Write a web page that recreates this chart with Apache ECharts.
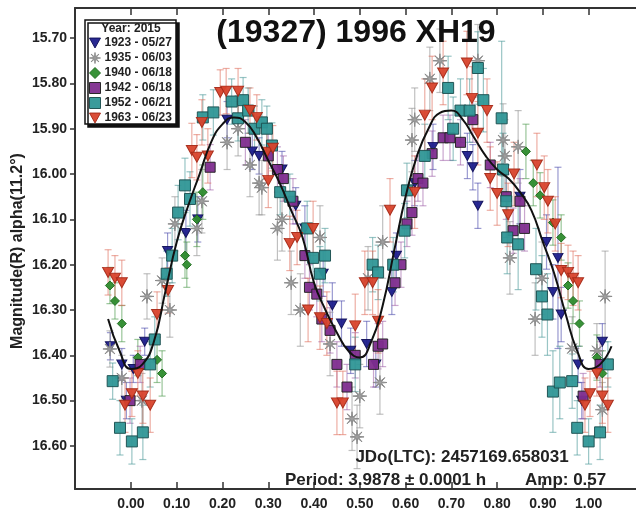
<!DOCTYPE html>
<html><head><meta charset="utf-8">
<script src="https://cdn.jsdelivr.net/npm/echarts@6/dist/echarts.min.js"></script>
<style>html,body{margin:0;padding:0;background:#fff}#c{width:636px;height:520px}</style>
</head><body><div id="c"></div><script>
// ---- data: [phase, magnitude, error] ----
const s1923 = [[-0.045,16.38,0.03],[-0.02,16.42,0.035],[-0.01,16.50,0.04],[0.005,16.43,0.03],[0.03,16.37,0.03],[0.08,16.17,0.04],[0.12,16.13,0.05],[0.146,16.10,0.05],[0.21,15.88,0.04],[0.265,15.95,0.04],[0.28,15.96,0.04],[0.33,15.99,0.04],[0.36,16.07,0.04],[0.38,16.12,0.05],[0.42,16.22,0.05],[0.44,16.29,0.05],[0.46,16.33,0.05],[0.48,16.39,0.05],[0.515,16.375,0.05],[0.535,16.42,0.05],[0.57,16.26,0.05],[0.58,16.18,0.05],[0.62,16.02,0.05],[0.66,15.94,0.05],[0.735,15.96,0.05],[0.747,15.985,0.05],[0.758,16.07,0.05],[0.85,16.05,0.06],[0.908,16.15,0.06],[0.933,16.185,0.2],[0.922,16.26,0.06],[0.94,16.31,0.06],[0.977,16.42,0.04],[0.985,16.50,0.04],[1.03,16.37,0.04]];
const s1935 = [[-0.046,16.386,0.04],[-0.02,16.45,0.05],[0.024,16.50,0.06],[0.035,16.27,0.05],[0.068,16.235,0.05],[0.085,16.30,0.06],[0.096,16.11,0.06],[0.144,16.12,0.06],[0.155,16.06,0.07],[0.21,15.93,0.06],[0.234,15.90,0.06],[0.26,15.98,0.07],[0.28,16.02,0.07],[0.286,16.03,0.06],[0.32,16.12,0.07],[0.33,16.10,0.07],[0.35,16.24,0.07],[0.37,16.30,0.08],[0.413,16.14,0.07],[0.435,16.375,0.07],[0.483,16.54,0.07],[0.494,16.58,0.07],[0.50,16.49,0.07],[0.518,16.23,0.07],[0.544,16.46,0.07],[0.55,16.15,0.08],[0.614,15.925,0.07],[0.62,15.88,0.07],[0.653,15.79,0.07],[0.675,15.75,0.07],[0.758,15.75,0.08],[0.813,15.925,0.08],[0.846,15.94,0.08],[0.817,15.96,0.08],[0.828,16.185,0.08],[0.883,16.32,0.08],[0.898,16.23,0.08],[0.964,16.385,0.07],[1.018,16.39,0.06],[1.03,16.52,0.06],[1.036,16.27,0.1]];
const s1940 = [[-0.046,16.246,0.04],[-0.035,16.28,0.04],[-0.02,16.33,0.04],[0.015,16.405,0.04],[0.057,16.41,0.05],[0.068,16.44,0.05],[0.118,16.18,0.05],[0.122,16.20,0.05],[0.144,16.10,0.06],[0.157,16.04,0.06],[0.863,15.95,0.06],[0.879,16.02,0.05],[0.894,16.047,0.05],[0.922,16.107,0.05],[0.94,16.14,0.05],[0.955,16.246,0.05],[0.966,16.28,0.05],[0.98,16.33,0.05],[1.018,16.405,0.05],[1.03,16.44,0.05]];
const s1942 = [[-0.002,16.50,0.05],[0.02,16.42,0.04],[0.173,15.985,0.05],[0.25,15.93,0.05],[0.30,15.96,0.05],[0.32,15.99,0.05],[0.333,16.01,0.05],[0.354,16.06,0.05],[0.38,16.18,0.05],[0.39,16.25,0.05],[0.406,16.265,0.05],[0.417,16.32,0.05],[0.435,16.345,0.05],[0.45,16.42,0.05],[0.472,16.47,0.05],[0.49,16.40,0.05],[0.53,16.42,0.05],[0.54,16.38,0.05],[0.55,16.375,0.05],[0.577,16.24,0.05],[0.59,16.20,0.05],[0.603,16.11,0.05],[0.614,16.085,0.05],[0.627,16.01,0.05],[0.638,16.02,0.05],[0.658,15.955,0.05],[0.682,15.92,0.05],[0.697,15.92,0.05],[0.72,15.93,0.05],[0.747,15.88,0.05],[0.785,15.98,0.05],[0.82,16.05,0.05],[0.835,16.125,0.05],[0.85,16.06,0.05],[0.86,16.12,0.05],[0.988,16.49,0.05],[1.025,16.42,0.05]];
const s1952 = [[-0.04,16.457,0.04],[-0.024,16.56,0.06],[0.002,16.59,0.05],[0.026,16.57,0.06],[0.042,16.42,0.05],[0.052,16.365,0.05],[0.078,16.22,0.05],[0.09,16.18,0.06],[0.103,16.085,0.06],[0.118,16.025,0.06],[0.129,16.055,0.06],[0.157,15.875,0.05],[0.18,15.864,0.05],[0.22,15.84,0.05],[0.234,15.877,0.05],[0.245,15.837,0.05],[0.256,15.86,0.05],[0.27,15.90,0.05],[0.286,15.886,0.05],[0.297,15.90,0.05],[0.308,15.937,0.05],[0.326,16.04,0.05],[0.347,16.05,0.05],[0.385,16.12,0.06],[0.398,16.185,0.06],[0.413,16.22,0.06],[0.424,16.18,0.06],[0.49,16.42,0.06],[0.528,16.20,0.06],[0.54,16.217,0.06],[0.573,16.20,0.06],[0.598,16.125,0.06],[0.603,16.036,0.06],[0.642,15.96,0.07],[0.693,15.81,0.07],[0.704,15.90,0.07],[0.72,15.86,0.07],[0.74,15.86,0.07],[0.758,15.766,0.08],[0.77,15.837,0.07],[0.81,15.877,0.17],[0.813,15.99,0.08],[0.82,16.06,0.08],[0.822,16.14,0.08],[0.846,16.155,0.1],[0.885,16.21,0.09],[0.898,16.27,0.09],[0.91,16.31,0.09],[0.922,16.48,0.09],[0.937,16.46,0.08],[0.964,16.457,0.06],[0.975,16.56,0.06],[1.0,16.59,0.05],[1.025,16.57,0.06],[1.042,16.42,0.05]];
const s1963 = [[-0.05,16.217,0.05],[-0.035,16.23,0.05],[-0.02,16.24,0.05],[-0.013,16.51,0.06],[0.002,16.485,0.05],[0.015,16.44,0.05],[0.026,16.49,0.06],[0.042,16.51,0.06],[0.057,16.31,0.05],[0.081,16.257,0.05],[0.133,15.948,0.06],[0.144,15.963,0.05],[0.155,15.886,0.05],[0.168,15.96,0.06],[0.195,15.82,0.05],[0.208,15.817,0.05],[0.234,15.817,0.05],[0.26,15.86,0.05],[0.275,15.875,0.05],[0.297,15.952,0.06],[0.30,16.014,0.06],[0.31,15.943,0.05],[0.347,16.153,0.06],[0.363,16.14,0.06],[0.387,16.30,0.07],[0.398,16.12,0.06],[0.413,16.317,0.07],[0.428,16.33,0.07],[0.45,16.505,0.07],[0.463,16.505,0.07],[0.49,16.335,0.07],[0.511,16.24,0.07],[0.528,16.24,0.07],[0.54,16.325,0.07],[0.566,16.08,0.07],[0.62,16.04,0.08],[0.642,15.87,0.08],[0.658,15.81,0.07],[0.682,15.777,0.07],[0.734,15.755,0.07],[0.745,15.833,0.07],[0.758,15.91,0.07],[0.778,15.86,0.07],[0.785,16.01,0.07],[0.80,16.043,0.07],[0.824,16.09,0.07],[0.837,16.0,0.07],[0.887,15.98,0.07],[0.903,16.03,0.07],[0.911,16.06,0.07],[0.927,16.11,0.06],[0.94,16.213,0.06],[0.955,16.217,0.06],[0.966,16.23,0.06],[0.977,16.24,0.06],[0.992,16.51,0.06],[1.003,16.485,0.05],[1.018,16.44,0.05],[1.03,16.49,0.06],[1.042,16.51,0.06]];
// fitted Fourier curve
const fitPhase = [-0.05,-0.025,0,0.025,0.05,0.075,0.1,0.125,0.15,0.175,0.2,0.225,0.25,0.275,0.3,0.325,0.35,0.375,0.4,0.425,0.45,0.475,0.5,0.525,0.55,0.575,0.6,0.625,0.65,0.675,0.7,0.725,0.75,0.775,0.8,0.825,0.85,0.875,0.9,0.925,0.95,0.975,1.0,1.025,1.05];
const fitMag = [16.32,16.39,16.43,16.42,16.37,16.26,16.15,16.07,16.00,15.93,15.89,15.875,15.885,15.92,15.97,16.02,16.08,16.14,16.24,16.30,16.35,16.39,16.405,16.37,16.29,16.17,16.05,15.96,15.90,15.865,15.86,15.88,15.92,15.96,15.99,16.01,16.04,16.08,16.15,16.22,16.31,16.39,16.43,16.42,16.38];
const phaseTicks = [0,0.1,0.2,0.3,0.4,0.5,0.6,0.7,0.8,0.9,1.0];
const magTicks = [15.7,15.8,15.9,16.0,16.1,16.2,16.3,16.4,16.5,16.6];
const seriesNames = ['1923 - 05/27','1935 - 06/03','1940 - 06/18','1942 - 06/18','1952 - 06/21','1963 - 06/23'];

// ---- styles ----
const triDown = 'path://M0,0L10,0L5,9Z';
let starPath = 'path://';
for (let i = 0; i < 16; i++) {
  const a = Math.PI * i / 8, r = (i % 2 === 0) ? 10 : 2.2;
  starPath += (i === 0 ? 'M' : 'L') + (10 + r * Math.cos(a)).toFixed(2) + ',' + (10 + r * Math.sin(a)).toFixed(2);
}
starPath += 'Z';
const styles = [
  {data: s1923, symbol: triDown, size: [10, 9], color: '#1d1d8c', border: '#11115a', err: 'rgba(70,70,170,0.55)'},
  {data: s1935, symbol: starPath, size: 14, color: '#9c9c9c', border: '#8a8a8a', err: 'rgba(150,150,150,0.6)'},
  {data: s1940, symbol: 'diamond', size: 9, color: '#2e8c2e', border: '#1e6a1e', err: 'rgba(70,150,70,0.55)'},
  {data: s1942, symbol: 'rect', size: 10, color: '#7e2d8e', border: '#222222', err: 'rgba(150,80,160,0.5)'},
  {data: s1952, symbol: 'rect', size: 11, color: '#2f9696', border: '#1c5050', err: 'rgba(70,150,150,0.55)'},
  {data: s1963, symbol: triDown, size: [11, 10], color: '#d8432c', border: '#a62a18', err: 'rgba(220,100,80,0.52)'}
];

const series = [];
styles.forEach((st, i) => {
  series.push({
    type: 'custom', name: 'err' + i, data: st.data, z: 1,
    encode: {x: 0, y: 1}, silent: true,
    renderItem: function (params, api) {
      const x = api.value(0), y = api.value(1), e = api.value(2);
      const p1 = api.coord([x, y - e]), p2 = api.coord([x, y + e]);
      const w = 3.5, s = {stroke: st.err, lineWidth: 1.2};
      return {type: 'group', children: [
        {type: 'line', shape: {x1: p1[0], y1: p1[1], x2: p2[0], y2: p2[1]}, style: s},
        {type: 'line', shape: {x1: p1[0] - w, y1: p1[1], x2: p1[0] + w, y2: p1[1]}, style: s},
        {type: 'line', shape: {x1: p2[0] - w, y1: p2[1], x2: p2[0] + w, y2: p2[1]}, style: s}
      ]};
    }
  });
});
styles.forEach((st, i) => {
  series.push({
    type: 'scatter', name: seriesNames[i], data: st.data, z: 2,
    encode: {x: 0, y: 1},
    symbol: st.symbol, symbolSize: st.size,
    itemStyle: {color: st.color, borderColor: st.border, borderWidth: 1, opacity: 0.95}
  });
});
series.push({
  type: 'line', name: 'fit', data: fitPhase.map((p, k) => [p, fitMag[k]]),
  smooth: true, symbol: 'none', z: 3, silent: true,
  lineStyle: {color: '#111', width: 2}
});

const chart = echarts.init(document.getElementById('c'), null, {renderer: 'canvas'});
const F = 'Liberation Sans, Arial, sans-serif';
chart.setOption({
  animation: false,
  backgroundColor: '#fff',
  grid: {left: 75, top: 8, right: 0, bottom: 31},
  xAxis: [{
    type: 'value', position: 'bottom', min: -0.1223, max: 1.1035,
    axisLine: {show: true, onZero: false, lineStyle: {color: '#333', width: 2}},
    axisTick: {show: true, inside: true, length: 7, customValues: phaseTicks, lineStyle: {color: '#333', width: 1.5}},
    axisLabel: {customValues: phaseTicks, formatter: v => v.toFixed(2), margin: 8,
      fontFamily: F, fontWeight: 'bold', fontSize: 14, color: '#222'},
    splitLine: {show: false}
  }, {
    type: 'value', position: 'top', min: -0.1223, max: 1.1035,
    axisLine: {show: true, onZero: false, lineStyle: {color: '#333', width: 2}},
    axisTick: {show: true, inside: true, length: 7, customValues: phaseTicks, lineStyle: {color: '#333', width: 1.5}},
    axisLabel: {show: false},
    splitLine: {show: false}
  }],
  yAxis: {
    type: 'value', inverse: true, min: 15.6336, max: 16.695,
    axisLine: {show: true, onZero: false, lineStyle: {color: '#333', width: 2}},
    axisTick: {show: true, inside: false, length: 5, customValues: magTicks, lineStyle: {color: '#333', width: 1.5}},
    axisLabel: {customValues: magTicks, formatter: v => v.toFixed(2), margin: 8,
      fontFamily: F, fontWeight: 'bold', fontSize: 14, color: '#222'},
    splitLine: {show: false}
  },
  legend: {
    orient: 'vertical', left: 89, top: 37, padding: 0, itemGap: 3,
    itemWidth: 11, itemHeight: 11, itemStyle: {borderWidth: 1},
    textStyle: {fontFamily: F, fontWeight: 'bold', fontSize: 12, color: '#222', padding: [0, 0, 0, -1]},
    data: [
      {name: seriesNames[0], icon: triDown},
      {name: seriesNames[1], icon: starPath},
      {name: seriesNames[2], icon: 'diamond'},
      {name: seriesNames[3], icon: 'rect'},
      {name: seriesNames[4], icon: 'rect'},
      {name: seriesNames[5], icon: triDown}
    ],
    z: 6
  },
  graphic: [
    {type: 'rect', z: 5, shape: {x: 85, y: 20, width: 91, height: 104},
     style: {fill: '#fff', stroke: '#111', lineWidth: 1.5, shadowColor: '#111', shadowOffsetX: 3, shadowOffsetY: 3, shadowBlur: 0}},
    {type: 'text', z: 7, style: {text: 'Year: 2015', x: 131, y: 29, textAlign: 'center', textVerticalAlign: 'middle',
      font: 'bold 12px ' + F, fill: '#222'}},
    {type: 'text', z: 8, style: {text: '(19327) 1996 XH19', x: 356, y: 33, textAlign: 'center', textVerticalAlign: 'middle',
      font: 'bold 32px ' + F, fill: '#111'}},
    {type: 'text', z: 8, rotation: Math.PI / 2, x: 18, y: 251, style: {text: 'Magnitude(R) alpha(11.2°)', x: 0, y: 0,
      textAlign: 'center', textVerticalAlign: 'middle', font: 'bold 16px ' + F, fill: '#222'}},
    {type: 'text', z: 8, style: {text: 'JDo(LTC): 2457169.658031', x: 462, y: 457, textAlign: 'center', textVerticalAlign: 'middle',
      font: 'bold 17px ' + F, fill: '#222'}},
    {type: 'text', z: 8, style: {text: 'Period: 3.9878 ± 0.0001 h', x: 285, y: 480, textAlign: 'left', textVerticalAlign: 'middle',
      font: 'bold 17px ' + F, fill: '#222'}},
    {type: 'text', z: 8, style: {text: 'Amp: 0.57', x: 525, y: 480, textAlign: 'left', textVerticalAlign: 'middle',
      font: 'bold 17px ' + F, fill: '#222'}}
  ],
  series: series
});
</script></body></html>
